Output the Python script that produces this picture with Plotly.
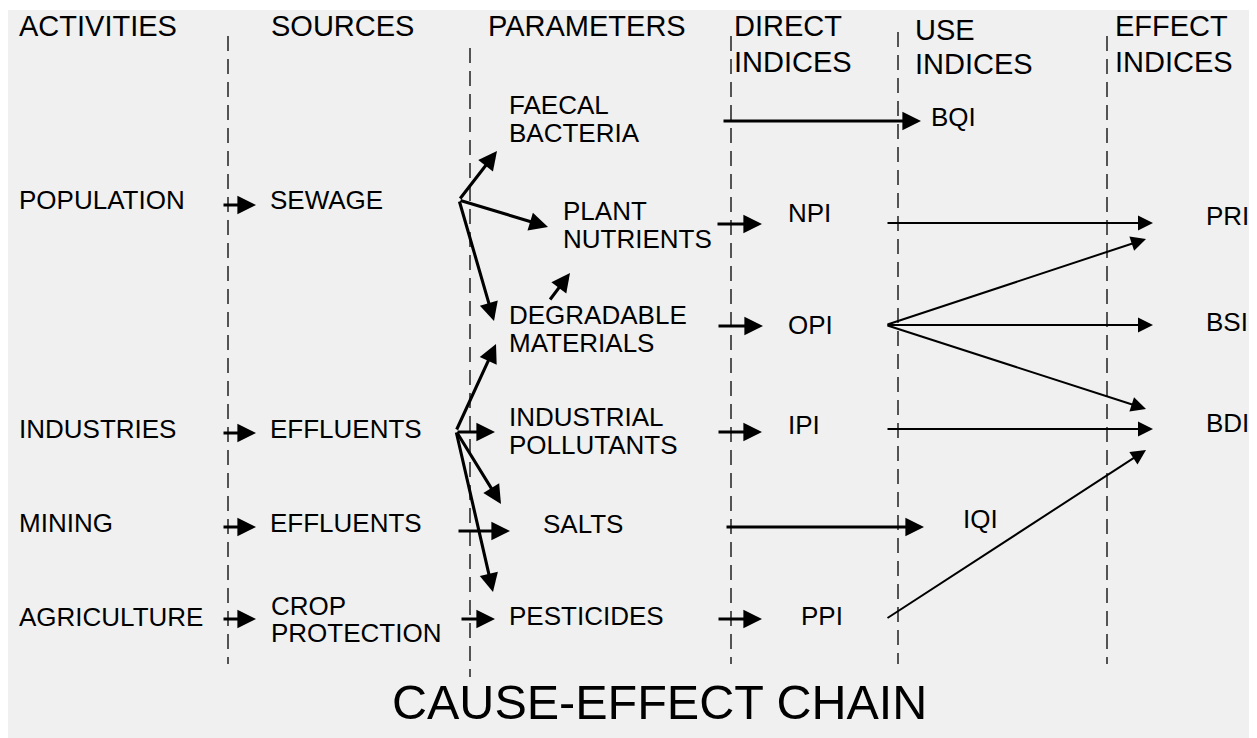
import plotly.graph_objects as go

# page body has an 8px margin; figure is drawn in page pixel coordinates
OFF = 8
W, H = 1257 - OFF, 738 - OFF
FONT = "Liberation Sans, Arial, sans-serif"

# ---- data: labels ----
header_labels = ["ACTIVITIES", "SOURCES", "PARAMETERS", "DIRECT", "INDICES",
                 "USE", "INDICES", "EFFECT", "INDICES"]
header_pos = [(18, 26), (270, 26), (487, 26), (733, 26), (733, 62),
              (914, 30), (914, 64), (1114, 26), (1114, 62)]

node_labels = ["POPULATION", "INDUSTRIES", "MINING", "AGRICULTURE",
               "SEWAGE", "EFFLUENTS", "EFFLUENTS", "CROP", "PROTECTION",
               "FAECAL", "BACTERIA", "PLANT", "NUTRIENTS",
               "DEGRADABLE", "MATERIALS", "INDUSTRIAL", "POLLUTANTS",
               "SALTS", "PESTICIDES",
               "BQI", "NPI", "OPI", "IPI", "IQI", "PPI",
               "PRI", "BSI", "BDI"]
node_pos = [(18, 200), (18, 429), (18, 523), (18, 617),
            (269, 200), (269, 429), (269, 523), (270, 605.5), (270, 633),
            (508, 105), (508, 133), (562, 211), (562, 239),
            (508, 315), (508, 343), (508, 416.5), (508, 444.5),
            (542, 524), (508, 616),
            (930, 117), (787, 213), (787, 325), (787, 425), (962, 519), (800, 616),
            (1205, 216), (1205, 322), (1205, 423)]

title_text = "CAUSE-EFFECT CHAIN"

# ---- data: column separators ----
sep_x = [228, 470, 731, 898, 1107]
sep_y0 = [36, 48, 36, 32, 36]
sep_y1 = [664, 677, 664, 664, 664]

# ---- data: arrows (start -> tip) ----
thick_start = [(222, 205), (222, 433), (222, 527), (222, 619),
               (459, 200), (459, 200), (459, 200),
               (456, 431), (456, 432), (456, 431), (456, 431),
               (549, 301), (457, 531), (460, 619),
               (722, 121), (716, 224), (717, 326), (717, 432), (725, 527), (717, 619)]
thick_tip = [(256, 205), (256, 433), (256, 527), (256, 619),
             (497, 151), (548, 227), (494, 321),
             (496, 344), (495, 432), (501, 504), (493, 592),
             (570, 273), (510, 531), (495, 619),
             (921, 121), (762, 224), (763, 326), (762, 432), (924, 527), (762, 619)]

thin_start = [(886, 223), (886, 325), (886, 325), (886, 325), (886, 429), (886, 619)]
thin_tip = [(1153, 223), (1146, 239), (1153, 325), (1146, 409), (1153, 429), (1146, 450)]

fig = go.Figure()

shapes = [dict(type="rect", xref="x", yref="y", x0=8, x1=1252, y0=10, y1=740,
               fillcolor="#f0f0f0", line=dict(width=0), layer="below")]
for x, y0, y1 in zip(sep_x, sep_y0, sep_y1):
    shapes.append(dict(type="line", xref="x", yref="y", x0=x, x1=x, y0=y0, y1=y1,
                       line=dict(color="black", width=1.3, dash="15px,8px")))

annotations = []
for t, (x, y) in zip(header_labels, header_pos):
    annotations.append(dict(x=x, y=y, xref="x", yref="y", text=t, showarrow=False,
                            xanchor="left", yanchor="middle", borderpad=0,
                            font=dict(family=FONT, size=29, color="black")))
for t, (x, y) in zip(node_labels, node_pos):
    annotations.append(dict(x=x, y=y, xref="x", yref="y", text=t, showarrow=False,
                            xanchor="left", yanchor="middle", borderpad=0,
                            font=dict(family=FONT, size=26, color="black")))
annotations.append(dict(x=659, y=702, xref="x", yref="y", text=title_text, showarrow=False,
                        xanchor="center", yanchor="middle", borderpad=0,
                        font=dict(family=FONT, size=48.5, color="black")))

for (sx, sy), (tx, ty) in zip(thick_start, thick_tip):
    annotations.append(dict(x=tx, y=ty, ax=sx, ay=sy, xref="x", yref="y",
                            axref="x", ayref="y", text="", showarrow=True,
                            arrowhead=2, arrowsize=1.2, arrowwidth=3.1,
                            arrowcolor="black", standoff=0, startstandoff=0))
for (sx, sy), (tx, ty) in zip(thin_start, thin_tip):
    annotations.append(dict(x=tx, y=ty, ax=sx, ay=sy, xref="x", yref="y",
                            axref="x", ayref="y", text="", showarrow=True,
                            arrowhead=2, arrowsize=1.5, arrowwidth=2,
                            arrowcolor="black", standoff=0, startstandoff=0))

fig.update_layout(
    width=W, height=H, margin=dict(l=0, r=0, t=0, b=0),
    paper_bgcolor="white", plot_bgcolor="white",
    xaxis=dict(range=[OFF, OFF + W], visible=False, fixedrange=True),
    yaxis=dict(range=[OFF + H, OFF], visible=False, fixedrange=True),
    shapes=shapes, annotations=annotations, showlegend=False,
)

fig.write_html("out.html", config={"displayModeBar": False})
